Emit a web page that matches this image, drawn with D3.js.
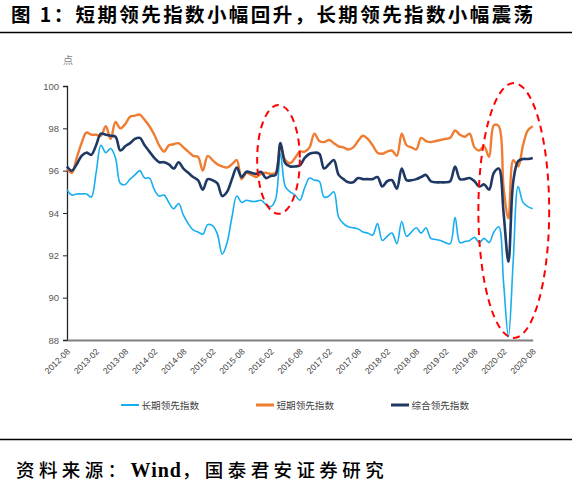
<!DOCTYPE html>
<html><head><meta charset="utf-8">
<script src="https://cdn.jsdelivr.net/npm/d3@7"></script>
<style>
body{margin:0;background:#fff;}
svg{display:block;}
</style></head>
<body>
<svg id="c" width="572" height="493"></svg>
<script>
const title = "图 1：短期领先指数小幅回升，长期领先指数小幅震荡";
const sourceParts = ["资料来源：", "Wind", "，国泰君安证券研究"];
const unitLabel = "点";
const seriesNames = ["长期领先指数", "短期领先指数", "综合领先指数"];
const seriesColors = ["#17aef0", "#ee7d31", "#1f3864"];
const tickLabels = ["2012-08","2013-02","2013-08","2014-02","2014-08","2015-02","2015-08","2016-02","2016-08","2017-02","2017-08","2018-02","2018-08","2019-02","2019-08","2020-02","2020-08"];
const yTicks = [88, 90, 92, 94, 96, 98, 100];

// monthly 2012-08 .. 2020-08
const longIdx = [95.1,94.85,94.9,94.9,94.9,94.75,95.9,97.2,96.85,97.05,96.6,95.4,95.35,95.6,95.8,96.0,95.65,95.65,95.1,94.8,
94.85,94.5,94.2,94.45,93.9,93.5,93.2,93.1,93.0,93.45,93.4,93.0,92.05,92.6,93.8,94.8,94.5,94.6,94.55,94.55,
94.6,94.4,94.3,94.65,96.8,95.25,95.0,94.85,94.6,95.2,95.65,95.55,95.5,94.75,94.8,95.0,93.8,93.5,93.35,93.3,
93.25,93.1,93.05,92.95,93.5,92.7,92.9,93.05,92.55,93.6,92.9,93.1,93.3,93.05,93.3,92.8,92.75,92.7,92.6,92.55,
93.8,92.6,92.65,92.7,92.85,92.6,92.8,92.6,93.1,93.35,90.7,88.15,91.8,95.25,94.5,94.3,94.2];
const shortIdx = [96.1,95.9,96.6,97.3,97.8,97.7,97.7,97.65,98.1,97.5,98.3,98.0,98.2,98.55,98.6,98.65,98.4,98.1,97.7,97.2,
96.9,97.2,97.25,97.3,97.1,96.9,96.7,96.65,96.0,96.7,96.5,96.3,96.2,96.15,96.3,96.5,95.6,95.9,95.8,95.7,
95.85,95.9,95.85,95.9,97.1,96.5,96.35,96.6,96.9,96.9,97.1,97.75,97.4,97.35,97.45,97.3,97.15,97.1,97.0,97.1,
97.4,97.65,97.5,97.2,96.85,96.8,96.9,96.95,96.7,97.75,97.2,97.1,97.0,97.55,97.4,97.35,97.4,97.45,97.5,97.55,
97.9,97.7,97.6,97.75,97.1,96.95,97.15,96.65,98.15,98.1,95.2,93.75,96.5,96.2,97.2,97.9,98.1];
const compIdx = [96.2,96.0,96.3,96.7,96.85,96.75,97.2,97.75,97.7,97.65,97.6,96.95,97.15,97.3,97.5,97.55,97.2,96.9,96.6,96.4,
96.4,96.3,96.1,96.4,96.1,95.9,95.7,95.55,95.1,95.6,95.55,95.4,94.8,95.0,95.6,96.15,95.7,95.95,95.9,95.85,
95.95,95.65,95.75,95.8,97.3,96.35,96.2,96.2,96.25,96.6,96.8,96.85,96.8,96.1,96.3,96.5,95.8,95.6,95.45,95.45,
95.65,95.6,95.6,95.6,95.7,95.25,95.5,95.55,95.15,96.1,95.55,95.55,95.6,95.7,95.8,95.5,95.45,95.45,95.45,95.5,
96.2,95.6,95.6,95.65,95.5,95.25,95.35,95.1,95.9,96.1,94.0,91.7,95.5,96.45,96.55,96.55,96.6];

// annotation ellipses (centre month index, centre value, half-width in months, half-height in points)
const ellipseCenters = [43.6, 92.1];
const ellipseValues = [96.53, 94.12];
const ellipseRxMonths = [4.4, 7.3];
const ellipseRyUnits = [2.57, 6.02];

const categories = d3.timeMonth.range(new Date(2012,7,1), new Date(2020,8,1)).map(d3.timeFormat("%Y-%m"));
const allSeries = [longIdx, shortIdx, compIdx];

const svg = d3.select("#c");
const x = d3.scaleLinear().domain([0, categories.length - 1]).range([67, 532.7]);
const y = d3.scaleLinear().domain([88, 100]).range([340, 86]);

const cjk = "'Noto Sans CJK SC', 'Microsoft YaHei', sans-serif";
const latin = "'Liberation Sans', Arial, sans-serif";

// title
svg.append("text").attr("x", 11).attr("y", 22)
  .style("font-family", cjk).style("font-weight", 700).style("font-size", "19.5px")
  .style("letter-spacing", "2.4px").attr("fill", "#000")
  .text(title);
svg.append("line").attr("x1", 0).attr("x2", 572).attr("y1", 32.5).attr("y2", 32.5)
  .attr("stroke", "#000").attr("stroke-width", 1.5);

// y axis
const yAxis = svg.append("g").attr("transform", "translate(67,0)")
  .call(d3.axisLeft(y).tickValues(yTicks).tickSize(4).tickPadding(4).tickFormat(d3.format("d")));
yAxis.select(".domain").attr("stroke", "#262626").attr("stroke-width", 1.3);
yAxis.selectAll(".tick line").attr("stroke", "#262626");
yAxis.selectAll("text").style("font-family", latin).style("font-size", "9.5px").attr("fill", "#595959");

svg.append("text").attr("x", 68).attr("y", 64).attr("text-anchor", "middle")
  .style("font-family", cjk).style("font-size", "10px").attr("fill", "#808080").text(unitLabel);

// x axis
const tickIdx = tickLabels.map(l => categories.indexOf(l));
const xAxis = svg.append("g").attr("transform", "translate(0,340)")
  .call(d3.axisBottom(x).tickValues(tickIdx).tickSize(0).tickFormat(i => categories[i]));
xAxis.select(".domain").attr("stroke", "#808080").attr("stroke-width", 2);
xAxis.selectAll("text")
  .style("font-family", latin).style("font-size", "8.6px").attr("fill", "#404040")
  .attr("text-anchor", "end").attr("x", 0).attr("y", 0).attr("dy", "0.35em")
  .attr("transform", "translate(1,10) rotate(-45)");

// lines
const line = d3.line().x((d, i) => x(i)).y(d => y(d)).curve(d3.curveCatmullRom.alpha(0.5));
const widths = [1.6, 2.4, 2.6];
allSeries.forEach((s, k) => {
  svg.append("path").datum(s).attr("d", line).attr("fill", "none")
    .attr("stroke", seriesColors[k]).attr("stroke-width", widths[k]).attr("stroke-linejoin", "round");
});

// ellipses
ellipseCenters.forEach((c, k) => {
  svg.append("ellipse")
    .attr("cx", x(c)).attr("cy", y(ellipseValues[k]))
    .attr("rx", x(c + ellipseRxMonths[k]) - x(c))
    .attr("ry", y(ellipseValues[k] - ellipseRyUnits[k]) - y(ellipseValues[k]))
    .attr("fill", "none").attr("stroke", "#ff0000").attr("stroke-width", 2).attr("stroke-dasharray", "7,5");
});

// legend
const legendX = [121, 256, 391];
seriesNames.forEach((n, k) => {
  svg.append("line").attr("x1", legendX[k]).attr("x2", legendX[k] + 18).attr("y1", 405).attr("y2", 405)
    .attr("stroke", seriesColors[k]).attr("stroke-width", k === 0 ? 2 : 3);
  svg.append("text").attr("x", legendX[k] + 20.5).attr("y", 408.5)
    .style("font-family", cjk).style("font-size", "9.6px").attr("fill", "#404040").text(n);
});

// bottom rule and source
svg.append("line").attr("x1", 0).attr("x2", 572).attr("y1", 439.5).attr("y2", 439.5)
  .attr("stroke", "#000").attr("stroke-width", 1.5);
const src = svg.append("text").attr("x", 16).attr("y", 477)
  .style("font-size", "18.5px").style("letter-spacing", "4.4px").attr("fill", "#000");
src.append("tspan").style("font-family", cjk).style("font-weight", 500).text(sourceParts[0]);
src.append("tspan").style("font-family", "'Liberation Serif', 'Times New Roman', serif").style("font-weight", 700)
  .style("letter-spacing", "1px").style("font-size", "20px").text(sourceParts[1]);
src.append("tspan").style("font-family", cjk).style("font-weight", 500).text(sourceParts[2]);
</script>
</body></html>
